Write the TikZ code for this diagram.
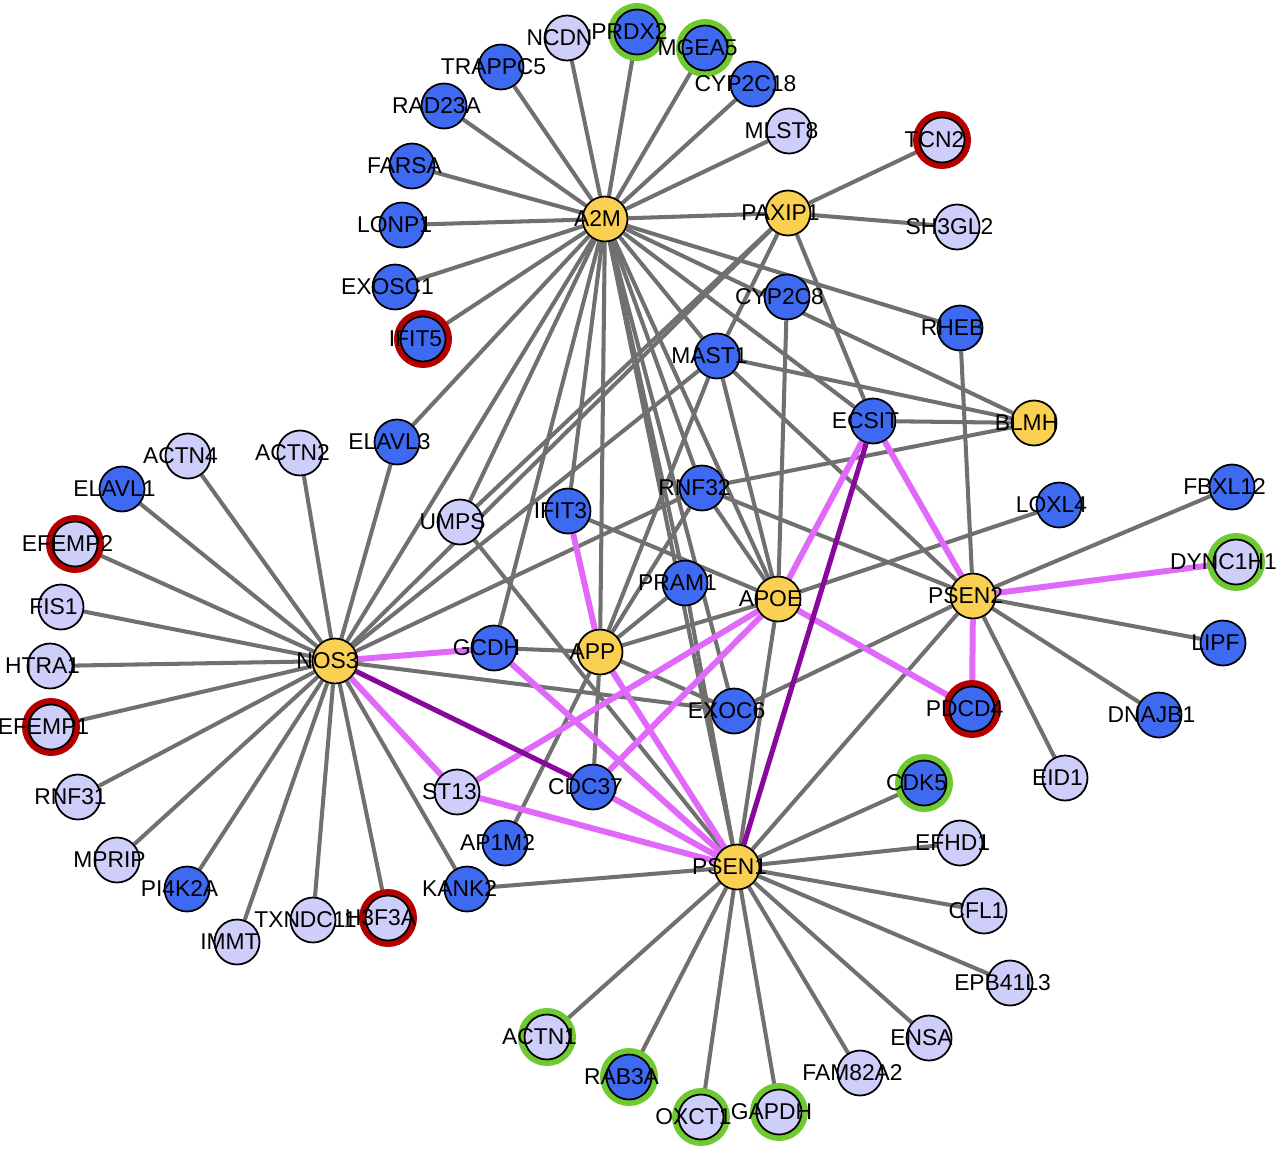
\documentclass[tikz,border=0pt]{standalone}
\usepackage{fontspec}
\setmainfont{Liberation Sans}
\usepackage{tikz}
\pgfdeclarelayer{edges}
\pgfsetlayers{edges,main}

\definecolor{hubyellow}{RGB}{250,208,82}
\definecolor{geneblue}{RGB}{62,106,242}
\definecolor{litelav}{RGB}{206,206,250}
\definecolor{edgegray}{RGB}{112,112,112}
\definecolor{linkpink}{RGB}{224,104,250}
\definecolor{linkpurple}{RGB}{136,8,156}
\definecolor{ringred}{RGB}{182,0,0}
\definecolor{ringgreen}{RGB}{110,202,48}

\newcommand{\glbl}[2][0.3cm]{\makebox[0pt]{\hspace*{-#1}#2}}

\begin{document}
\begin{tikzpicture}[
    x=0.02cm, y=-0.02cm,
    font=\fontsize{13}{15}\selectfont,
    gnode/.style={circle, draw=black, line width=1pt,
      minimum size=0.9cm, inner sep=0pt},
    hub/.style={gnode, fill=hubyellow},
    gene/.style={gnode, fill=geneblue},
    lite/.style={gnode, fill=litelav},
    grayline/.style={draw=edgegray, line width=2.3pt},
    pinkline/.style={draw=linkpink, line width=3.4pt},
    purpline/.style={draw=linkpurple, line width=2.9pt},
    redring/.style={draw=ringred, line width=3.7pt},
    greenring/.style={draw=ringgreen, line width=3.7pt}
  ]
    \useasboundingbox (0,0) rectangle (1280,1150);

    % hubs
    \node[hub] (A2M)    at (605,219) {\glbl{A2M}};
    \node[hub] (PAXIP1) at (788,213) {\glbl{PAXIP1}};
    \node[hub] (BLMH)   at (1034,423) {\glbl{BLMH}};
    \node[hub] (NOS3)   at (335,661) {\glbl{NOS3}};
    \node[hub] (APP)    at (600,652) {\glbl{APP}};
    \node[hub] (APOE)   at (778,599) {\glbl{APOE}};
    \node[hub] (PSEN2)  at (973,596) {\glbl{PSEN2}};
    \node[hub] (PSEN1)  at (737,867) {\glbl{PSEN1}};

    % top fan of A2M
    \node[lite] (NCDN)    at (567,38)  {\glbl{NCDN}};
    \node[gene] (PRDX2)   at (637,32)  {\glbl{PRDX2}};
    \node[gene] (MGEA5)   at (705,48)  {\glbl{MGEA5}};
    \node[gene] (CYP2C18) at (753,84)  {\glbl{CYP2C18}};
    \node[lite] (MLST8)   at (789,131) {\glbl{MLST8}};
    \node[lite] (TCN2)    at (942,140) {\glbl{TCN2}};
    \node[lite] (SH3GL2)  at (957,227) {\glbl{SH3GL2}};
    \node[gene] (TRAPPC5) at (501,67)  {\glbl{TRAPPC5}};
    \node[gene] (RAD23A)  at (444,106) {\glbl{RAD23A}};
    \node[gene] (FARSA)   at (412,166) {\glbl{FARSA}};
    \node[gene] (LONP1)   at (402,225) {\glbl{LONP1}};
    \node[gene] (EXOSC1)  at (395,287) {\glbl{EXOSC1}};
    \node[gene] (IFIT5)   at (423,339) {\glbl{IFIT5}};
    \node[gene] (CYP2C8)  at (787,297) {\glbl{CYP2C8}};
    \node[gene] (RHEB)    at (960,328) {\glbl{RHEB}};
    \node[gene] (MAST1)   at (717,356) {\glbl{MAST1}};
    \node[gene] (ECSIT)   at (873,421) {\glbl{ECSIT}};

    % left fan of NOS3
    \node[gene] (ELAVL3)  at (397,442) {\glbl{ELAVL3}};
    \node[lite] (ACTN4)   at (188,456) {\glbl{ACTN4}};
    \node[lite] (ACTN2)   at (300,453) {\glbl{ACTN2}};
    \node[gene] (ELAVL1)  at (122,489) {\glbl{ELAVL1}};
    \node[lite] (EFEMP2)  at (75,544)  {\glbl{EFEMP2}};
    \node[lite] (FIS1)    at (61,607)  {\glbl{FIS1}};
    \node[lite] (HTRA1)   at (50,666)  {\glbl{HTRA1}};
    \node[lite] (EFEMP1)  at (51,727)  {\glbl{EFEMP1}};
    \node[lite] (RNF31)   at (78,797)  {\glbl{RNF31}};
    \node[lite] (MPRIP)   at (117,860) {\glbl{MPRIP}};
    \node[gene] (PI4K2A)  at (187,889) {\glbl{PI4K2A}};
    \node[lite] (IMMT)    at (237,942) {\glbl{IMMT}};
    \node[lite] (TXNDC11) at (313,920) {\glbl{TXNDC11}};
    \node[lite] (H3F3A)   at (388,918) {\glbl{H3F3A}};
    \node[gene] (KANK2)   at (467,889) {\glbl{KANK2}};

    % middle
    \node[gene] (AP1M2)   at (505,843) {\glbl{AP1M2}};
    \node[lite] (ST13)    at (457,792) {\glbl{ST13}};
    \node[gene] (CDC37)   at (593,787) {\glbl{CDC37}};
    \node[lite] (UMPS)    at (460,522) {\glbl{UMPS}};
    \node[gene] (IFIT3)   at (568,511) {\glbl{IFIT3}};
    \node[gene] (RNF32)   at (702,488) {\glbl{RNF32}};
    \node[gene] (PRAM1)   at (685,583) {\glbl{PRAM1}};
    \node[gene] (GCDH)    at (494,648) {\glbl{GCDH}};
    \node[gene] (EXOC6)   at (734,711) {\glbl{EXOC6}};

    % right fan of PSEN2
    \node[gene] (LOXL4)   at (1059,505) {\glbl{LOXL4}};
    \node[gene] (FBXL12)  at (1232,487) {\glbl{FBXL12}};
    \node[lite] (DYNC1H1) at (1236,562) {\glbl[0.5cm]{DYNC1H1}};
    \node[gene] (LIPF)    at (1223,643) {\glbl{LIPF}};
    \node[gene] (DNAJB1)  at (1159,715) {\glbl{DNAJB1}};
    \node[gene] (PDCD4)   at (972,709)  {\glbl{PDCD4}};
    \node[lite] (EID1)    at (1065,778) {\glbl{EID1}};

    % bottom fan of PSEN1
    \node[gene] (CDK5)    at (924,783)  {\glbl{CDK5}};
    \node[lite] (EFHD1)   at (960,843)  {\glbl{EFHD1}};
    \node[lite] (CFL1)    at (984,911)  {\glbl{CFL1}};
    \node[lite] (EPB41L3) at (1010,983) {\glbl{EPB41L3}};
    \node[lite] (ENSA)    at (929,1038) {\glbl{ENSA}};
    \node[lite] (FAM82A2) at (860,1073) {\glbl{FAM82A2}};
    \node[lite] (GAPDH)   at (779,1112) {\glbl{GAPDH}};
    \node[lite] (OXCT1)   at (701,1117) {\glbl{OXCT1}};
    \node[gene] (RAB3A)   at (629,1077) {\glbl{RAB3A}};
    \node[lite] (ACTN1)   at (547,1037) {\glbl{ACTN1}};

    \begin{pgfonlayer}{edges}
    \draw[grayline] (A2M) -- (NCDN);
    \draw[grayline] (A2M) -- (PRDX2);
    \draw[grayline] (A2M) -- (MGEA5);
    \draw[grayline] (A2M) -- (CYP2C18);
    \draw[grayline] (A2M) -- (MLST8);
    \draw[grayline] (A2M) -- (TRAPPC5);
    \draw[grayline] (A2M) -- (RAD23A);
    \draw[grayline] (A2M) -- (FARSA);
    \draw[grayline] (A2M) -- (LONP1);
    \draw[grayline] (A2M) -- (EXOSC1);
    \draw[grayline] (A2M) -- (IFIT5);
    \draw[grayline] (A2M) -- (PAXIP1);
    \draw[grayline] (A2M) -- (ELAVL3);
    \draw[grayline] (A2M) -- (NOS3);
    \draw[grayline] (A2M) -- (UMPS);
    \draw[grayline] (A2M) -- (GCDH);
    \draw[grayline] (A2M) -- (IFIT3);
    \draw[grayline] (A2M) -- (APP);
    \draw[grayline] (A2M) -- (MAST1);
    \draw[grayline] (A2M) -- (ECSIT);
    \draw[grayline] (A2M) -- (RHEB);
    \draw[grayline] (A2M) -- (BLMH);
    \draw[grayline] (A2M) -- (APOE);
    \draw[grayline] (A2M) -- (PSEN1);
    \draw[grayline] (A2M) -- (PRAM1);
    \draw[grayline] (A2M) -- (RNF32);
    \draw[grayline] (A2M) -- (EXOC6);

    \draw[grayline] (PAXIP1) -- (TCN2);
    \draw[grayline] (PAXIP1) -- (SH3GL2);
    \draw[grayline] (PAXIP1) -- (MAST1);
    \draw[grayline] (PAXIP1) -- (UMPS);
    \draw[grayline] (PAXIP1) -- (NOS3);
    \draw[grayline] (PAXIP1) -- (ECSIT);

    \draw[grayline] (CYP2C8) -- (APOE);
    \draw[grayline] (RHEB) -- (PSEN2);
    \draw[grayline] (MAST1) -- (NOS3);
    \draw[grayline] (MAST1) -- (APP);
    \draw[grayline] (MAST1) -- (APOE);
    \draw[grayline] (MAST1) -- (PSEN2);
    \draw[grayline] (MAST1) -- (BLMH);
    \draw[grayline] (ECSIT) -- (BLMH);
    \draw[grayline] (RNF32) -- (BLMH);
    \draw[grayline] (RNF32) -- (NOS3);
    \draw[grayline] (RNF32) -- (APP);
    \draw[grayline] (RNF32) -- (APOE);
    \draw[grayline] (RNF32) -- (PSEN2);
    \draw[grayline] (IFIT3) -- (APOE);
    \draw[grayline] (PRAM1) -- (APP);
    \draw[grayline] (PRAM1) -- (PSEN1);
    \draw[grayline] (UMPS) -- (PSEN1);
    \draw[grayline] (GCDH) -- (APP);
    \draw[grayline] (APP) -- (APOE);
    \draw[grayline] (APP) -- (EXOC6);
    \draw[grayline] (APP) -- (CDC37);
    \draw[grayline] (APP) -- (AP1M2);
    \draw[grayline] (NOS3) -- (EXOC6);
    \draw[grayline] (EXOC6) -- (PSEN2);
    \draw[grayline] (LOXL4) -- (APOE);
    \draw[grayline] (APOE) -- (PSEN1);

    \draw[grayline] (NOS3) -- (ELAVL3);
    \draw[grayline] (NOS3) -- (ACTN4);
    \draw[grayline] (NOS3) -- (ACTN2);
    \draw[grayline] (NOS3) -- (ELAVL1);
    \draw[grayline] (NOS3) -- (EFEMP2);
    \draw[grayline] (NOS3) -- (FIS1);
    \draw[grayline] (NOS3) -- (HTRA1);
    \draw[grayline] (NOS3) -- (EFEMP1);
    \draw[grayline] (NOS3) -- (RNF31);
    \draw[grayline] (NOS3) -- (MPRIP);
    \draw[grayline] (NOS3) -- (PI4K2A);
    \draw[grayline] (NOS3) -- (IMMT);
    \draw[grayline] (NOS3) -- (TXNDC11);
    \draw[grayline] (NOS3) -- (H3F3A);
    \draw[grayline] (NOS3) -- (KANK2);

    \draw[grayline] (PSEN2) -- (FBXL12);
    \draw[grayline] (PSEN2) -- (LIPF);
    \draw[grayline] (PSEN2) -- (DNAJB1);
    \draw[grayline] (PSEN2) -- (EID1);
    \draw[grayline] (PSEN2) -- (PSEN1);

    \draw[grayline] (PSEN1) -- (KANK2);
    \draw[grayline] (PSEN1) -- (CDK5);
    \draw[grayline] (PSEN1) -- (EFHD1);
    \draw[grayline] (PSEN1) -- (CFL1);
    \draw[grayline] (PSEN1) -- (EPB41L3);
    \draw[grayline] (PSEN1) -- (ENSA);
    \draw[grayline] (PSEN1) -- (FAM82A2);
    \draw[grayline] (PSEN1) -- (GAPDH);
    \draw[grayline] (PSEN1) -- (OXCT1);
    \draw[grayline] (PSEN1) -- (RAB3A);
    \draw[grayline] (PSEN1) -- (ACTN1);

    \draw[pinkline] (NOS3) -- (GCDH);
    \draw[pinkline] (NOS3) -- (ST13);
    \draw[pinkline] (ST13) -- (APOE);
    \draw[pinkline] (ST13) -- (PSEN1);
    \draw[pinkline] (CDC37) -- (APOE);
    \draw[pinkline] (CDC37) -- (PSEN1);
    \draw[pinkline] (GCDH) -- (PSEN1);
    \draw[pinkline] (APP) -- (PSEN1);
    \draw[pinkline] (IFIT3) -- (APP);
    \draw[pinkline] (ECSIT) -- (APOE);
    \draw[pinkline] (ECSIT) -- (PSEN2);
    \draw[pinkline] (APOE) -- (PDCD4);
    \draw[pinkline] (PSEN2) -- (PDCD4);
    \draw[pinkline] (PSEN2) -- (DYNC1H1);
    \draw[purpline] (NOS3) -- (CDC37);
    \draw[purpline] (ECSIT) -- (PSEN1);

    \draw[redring] (TCN2.center) circle (0.515cm);
    \draw[redring] (IFIT5.center) circle (0.515cm);
    \draw[redring] (EFEMP2.center) circle (0.515cm);
    \draw[redring] (EFEMP1.center) circle (0.515cm);
    \draw[redring] (H3F3A.center) circle (0.515cm);
    \draw[redring] (PDCD4.center) circle (0.515cm);
    \draw[greenring] (PRDX2.center) circle (0.515cm);
    \draw[greenring] (MGEA5.center) circle (0.515cm);
    \draw[greenring] (DYNC1H1.center) circle (0.515cm);
    \draw[greenring] (CDK5.center) circle (0.515cm);
    \draw[greenring] (GAPDH.center) circle (0.515cm);
    \draw[greenring] (OXCT1.center) circle (0.515cm);
    \draw[greenring] (RAB3A.center) circle (0.515cm);
    \draw[greenring] (ACTN1.center) circle (0.515cm);
    \end{pgfonlayer}
  \end{tikzpicture}
\end{document}
